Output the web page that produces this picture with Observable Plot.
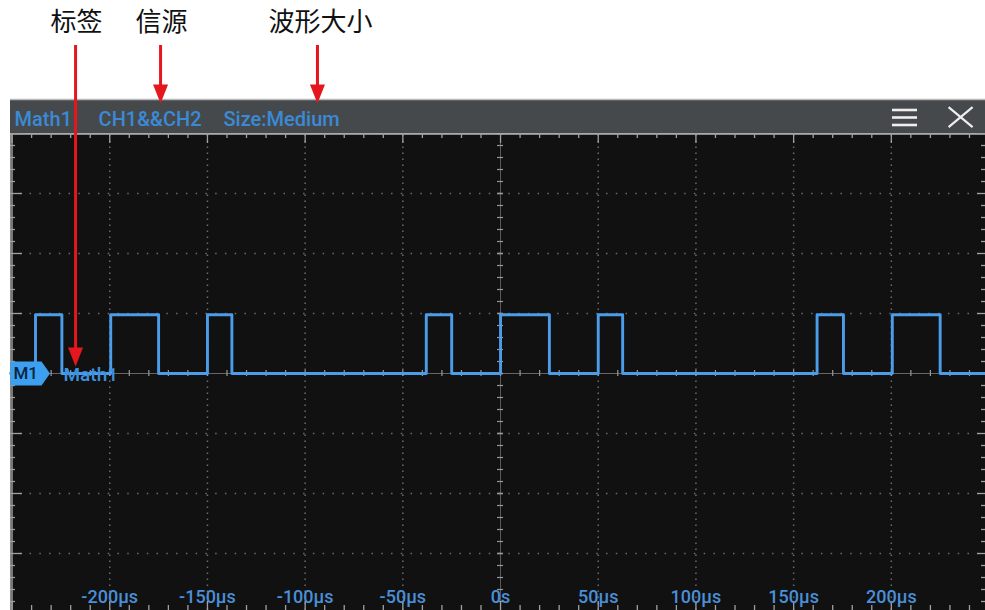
<!DOCTYPE html>
<html>
<head>
<meta charset="utf-8">
<script src="https://cdn.jsdelivr.net/npm/d3@7"></script>
<script src="https://cdn.jsdelivr.net/npm/@observablehq/plot@0.6"></script>
<style>
  html, body { margin: 0; padding: 0; background: #ffffff; }
  #chart { width: 985px; height: 610px; overflow: hidden; }
  #chart svg { display: block; }
</style>
</head>
<body>
<div id="chart"></div>
<script>
// ---------------- data ----------------
// Math1 = CH1 && CH2 : step waveform, times in µs, level in divisions
const edgeTimes  = [-250.8, -238, -224.5, -199.5, -175, -150, -137.5, -38, -25, 0, 25, 50, 62.5, 162, 175.5, 200.5, 225, 248.2];
const edgeLevels = [0, 0.98, 0, 0.98, 0, 0.98, 0, 0.98, 0, 0.98, 0, 0.98, 0, 0.98, 0, 0.98, 0, 0];
const tickValues = [-200, -150, -100, -50, 0, 50, 100, 150, 200];
const tickLabels = ["-200µs", "-150µs", "-100µs", "-50µs", "0s", "50µs", "100µs", "150µs", "200µs"];
const gridLevels = [-3, -2, -1, 1, 2, 3];
const headerLabels = ["Math1", "CH1&&CH2", "Size:Medium"];
const annotationLabels = ["标签", "信源", "波形大小"];
const channelLabel = "Math1";
const markerLabel = "M1";

// ---------------- layout ----------------
const W = 985, H = 610;
const X0 = -250.8, X1 = 248.2, Y0 = -3.95, Y1 = 4;
const ux = (X1 - X0) / 975;   // µs per pixel
const uy = 1 / 60;            // div per pixel
const headerX = [-248.7, -205.7, -141.8];
const headerY = Y1 + 14 * uy;
const annotX = [-217, -173.5, -92.1];
const annotY = 5.842;
const arrowX = [-217.5, -174, -93.7];
const arrowTip = [0.117, 4.5, 4.5];
const arrowStart = 5.467;
const labelY = -3.725;

const waveform = edgeTimes.map((t, i) => ({t, v: edgeLevels[i]}));
const minorX = d3.range(-250, 250, 10).map(t => ({t, major: t % 50 === 0}));
const minorY = d3.range(-19, 21).map(k => ({v: +(k * 0.2).toFixed(2), major: k % 5 === 0}));
const arrows = annotationLabels.map((label, i) => ({label, x: arrowX[i], tip: arrowTip[i], tx: annotX[i]}));

const blueText = "#3a8ad6";
const gridColor = "#8a8a8a";
const red = "#e3171d";

const arrowHead = {
  draw(ctx) {
    ctx.moveTo(0, 0);
    ctx.lineTo(-7.5, -19);
    ctx.lineTo(7.5, -19);
    ctx.closePath();
  }
};
const tagShape = {
  draw(ctx) {
    ctx.moveTo(0, -12);
    ctx.lineTo(31, -12);
    ctx.lineTo(39.5, 0);
    ctx.lineTo(31, 12);
    ctx.lineTo(0, 12);
    ctx.closePath();
  }
};

const chart = Plot.plot({
  width: W,
  height: H,
  marginLeft: 10,
  marginRight: 0,
  marginTop: 133,
  marginBottom: 0,
  style: {background: "#ffffff", overflow: "visible"},
  x: {domain: [X0, X1], axis: null},
  y: {domain: [Y0, Y1], axis: null},
  marks: [
    Plot.frame({fill: "#111111", stroke: "none"}),
    // dotted graticule
    Plot.ruleX(tickValues.filter(v => v !== 0), {y1: Y0, y2: Y1, stroke: gridColor, strokeOpacity: 0.75, strokeWidth: 1.5, strokeDasharray: "1.5,4.5"}),
    Plot.ruleY(gridLevels, {x1: X0, x2: X1, stroke: gridColor, strokeOpacity: 0.75, strokeWidth: 1.5, strokeDasharray: "1.5,8.27"}),
    // centre axes
    Plot.ruleX([0], {y1: Y0, y2: Y1, stroke: "#5a5a5a", strokeWidth: 1}),
    Plot.ruleY([0], {x1: X0, x2: X1, stroke: "#666666", strokeWidth: 1.2}),
    Plot.ruleY(minorY, {y: "v", x1: -3 * ux, x2: 3 * ux, stroke: "#9a9a9a", strokeWidth: d => d.major ? 1.6 : 1.2}),
    Plot.ruleX(minorX, {x: "t", y1: -3 * uy, y2: 3 * uy, stroke: "#9a9a9a", strokeWidth: 1.2}),
    // borders
    Plot.ruleX([X0 + 1.5 * ux], {y1: Y0, y2: Y1, stroke: "#9a9a9a", strokeWidth: 1.5}),
    Plot.ruleY([Y1 - 0.5 * uy], {x1: X0, x2: X1, stroke: "#b5b5b5", strokeWidth: 1.5}),
    Plot.ruleX(minorX, {x: "t", y1: Y1, y2: d => Y1 - (d.major ? 10 : 5) * uy, stroke: "#a0a0a0", strokeWidth: 1.3}),
    Plot.ruleX(minorX, {x: "t", y1: Y0, y2: d => Y0 + (d.major ? 9 : 5) * uy, stroke: "#a0a0a0", strokeWidth: 1.3}),
    Plot.ruleY(minorY, {y: "v", x1: X0, x2: d => X0 + (d.major ? 12 : 5) * ux, stroke: "#a0a0a0", strokeWidth: 1.3}),
    Plot.ruleY(minorY, {y: "v", x1: X1, x2: d => X1 - (d.major ? 8 : 4) * ux, stroke: "#a0a0a0", strokeWidth: 1.3}),
    // header bar
    Plot.rect([0], {x1: X0, x2: X1, y1: Y1, y2: Y1 + 34 * uy, fill: "#46494c"}),
    Plot.ruleY([Y1 + 34 * uy], {x1: X0, x2: X1, stroke: "#b8b8b8", strokeWidth: 1.5}),
    Plot.text(headerLabels, {x: (d, i) => headerX[i], y: headerY, text: d => d, textAnchor: "start", lineAnchor: "middle",
      fill: blueText, fontFamily: "Roboto", fontSize: 20, fontWeight: 500}),
    // menu icon
    Plot.ruleY([Y1 + 23.5 * uy, Y1 + 16 * uy, Y1 + 8.5 * uy], {x1: 200.6, x2: 213.4, stroke: "#eeeeee", strokeWidth: 2.6}),
    // close icon
    Plot.link([{a: 229.3, b: 241.6, c: Y1 + 26.3 * uy, d: Y1 + 6.3 * uy}, {a: 229.3, b: 241.6, c: Y1 + 6.3 * uy, d: Y1 + 26.3 * uy}],
      {x1: "a", x2: "b", y1: "c", y2: "d", stroke: "#eeeeee", strokeWidth: 2.2}),
    // time labels
    Plot.text(tickValues, {x: d => d, y: labelY, text: (d, i) => tickLabels[i], textAnchor: "middle", lineAnchor: "middle",
      fill: "#4a8fd8", fontFamily: "Roboto", fontSize: 18, fontWeight: 500}),
    // waveform
    Plot.line(waveform, {x: "t", y: "v", curve: "step-after", stroke: "#4c9de9", strokeWidth: 2.9}),
    // channel marker
    Plot.dot([markerLabel], {x: X0, y: 0, symbol: tagShape, fill: "#3c9ff0", stroke: "none", r: 10}),
    Plot.text([markerLabel], {x: X0 + 3 * ux, y: 0, text: d => d, textAnchor: "start", lineAnchor: "middle",
      fill: "#0a2440", fontFamily: "Roboto", fontSize: 17, fontWeight: 500}),
    Plot.text([channelLabel], {x: -223.7, y: -0.03, text: d => d, textAnchor: "start", lineAnchor: "middle",
      fill: "#3d90de", fontFamily: "Roboto", fontSize: 19, fontWeight: 500}),
    // annotations
    Plot.text(arrows, {x: "tx", y: annotY, text: "label", textAnchor: "middle", lineAnchor: "middle",
      fill: "#111111", fontFamily: "Noto Sans CJK SC", fontSize: 26}),
    Plot.ruleX(arrows, {x: "x", y1: arrowStart, y2: d => d.tip + 17 * uy, stroke: red, strokeWidth: 3}),
    Plot.dot(arrows, {x: "x", y: "tip", symbol: arrowHead, fill: red, stroke: "none", r: 8})
  ]
});

document.getElementById("chart").appendChild(chart);
</script>
</body>
</html>
